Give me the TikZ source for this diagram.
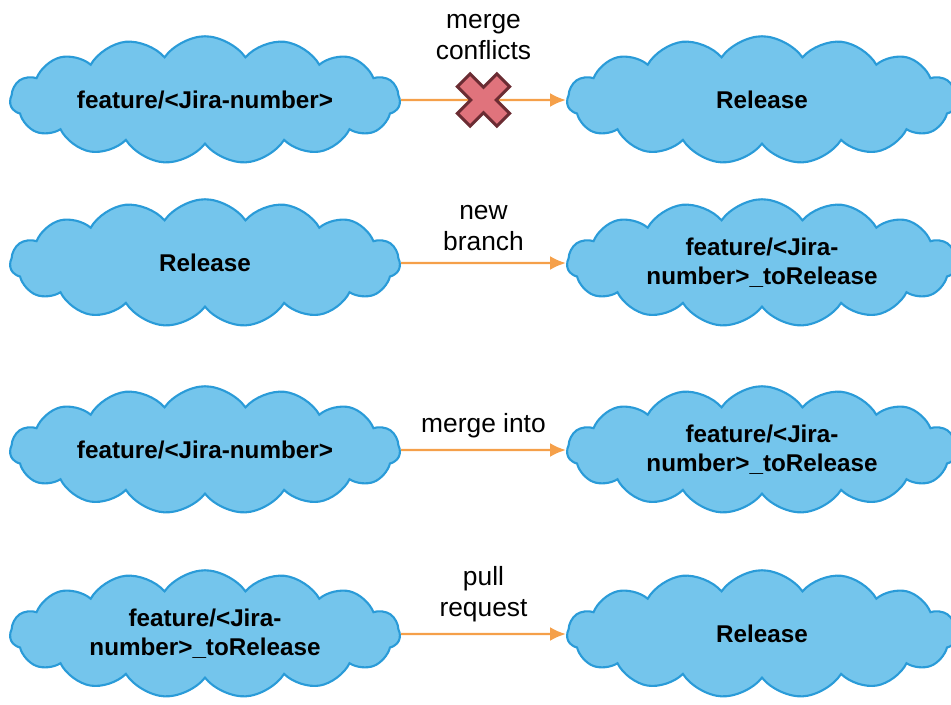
\documentclass[tikz,border=0pt]{standalone}
\usepackage{fontspec}
\setmainfont{Liberation Sans}
\usetikzlibrary{shapes.symbols,arrows.meta,positioning}
\definecolor{cloudblue}{HTML}{74C5EC}
\definecolor{cloudedge}{HTML}{2A9BD8}
\definecolor{flowarrow}{HTML}{F5A04A}
\definecolor{crossfill}{HTML}{E0737C}
\definecolor{crossedge}{HTML}{6B2C33}
\newcommand{\myunit}{0.02cm}
\tikzset{
    cloudsty/.style={cloud, cloud puffs=15, cloud puff arc=110, cloud ignores aspect,
        draw=cloudedge, fill=cloudblue, line width=1.2pt, inner sep=0pt,
        minimum width=7.8cm, minimum height=2.55cm, align=center,
        font=\bfseries\fontsize{13.8}{16.4}\selectfont},
    flowsty/.style={->, draw=flowarrow, line width=1.4pt},
    lblsty/.style={above=3pt, align=center, font=\fontsize{15}{17.6}\selectfont},
    crosssty/.style={fill=crossfill, draw=crossedge, line width=1.7pt, line join=miter},
}

\begin{document}
\begin{tikzpicture}[>={Latex[length=3.2mm,width=2.8mm]}, x=\myunit, y=-\myunit]
\useasboundingbox (0,0) rectangle (951,704);

% left column
\node[cloudsty] (fjira1) at (205,100) {feature/<Jira-number>};
\node[cloudsty] (rel2)   at (205,263) {Release};
\node[cloudsty] (fjira3) at (205,450) {feature/<Jira-number>};
\node[cloudsty] (fto4)   at (205,634) {feature/<Jira-\\number>\_toRelease};

% right column
\node[cloudsty] (rel1)   at (762,100) {Release};
\node[cloudsty] (fto2)   at (762,263) {feature/<Jira-\\number>\_toRelease};
\node[cloudsty] (fto3)   at (762,450) {feature/<Jira-\\number>\_toRelease};
\node[cloudsty] (rel4)   at (762,634) {Release};

% connectors
\draw[flowsty] (fjira1) -- node[lblsty, above=19pt] (lbl1) {merge\\conflicts}
    coordinate[midway] (xmark) (rel1);
\draw[flowsty] (rel2) -- node[lblsty] (lbl2) {new\\branch} (fto2);
\draw[flowsty] (fjira3) -- node[lblsty] (lbl3) {merge into} (fto3);
\draw[flowsty] (fto4) -- node[lblsty] (lbl4) {pull\\request} (rel4);

% the cross on the first connector
\begin{scope}[shift={(xmark)}, rotate=45]
\draw[crosssty] (9,28) -- (9,9) -- (28,9) -- (28,-9) -- (9,-9) -- (9,-28)
    -- (-9,-28) -- (-9,-9) -- (-28,-9) -- (-28,9) -- (-9,9) -- (-9,28) -- cycle;
\end{scope}
\end{tikzpicture}
\end{document}
